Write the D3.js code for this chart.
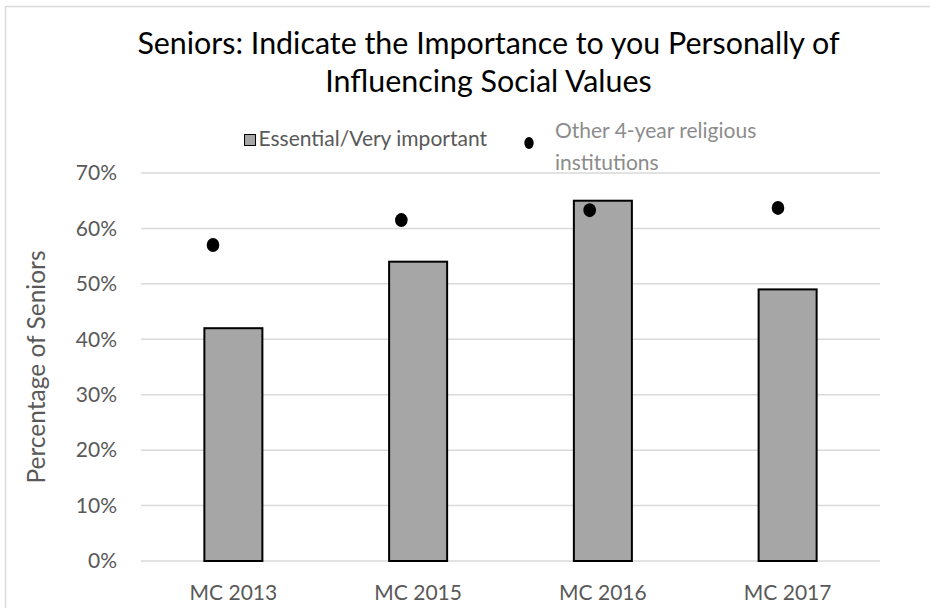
<!DOCTYPE html>
<html>
<head>
<meta charset="utf-8">
<script src="https://cdn.jsdelivr.net/npm/d3@7"></script>
<style>
  html, body { margin: 0; padding: 0; background: #fff; }
  svg { display: block; font-family: Lato, "Open Sans", sans-serif; }
</style>
</head>
<body>
<svg id="chart" width="930" height="608"></svg>
<script>
// Survey results: seniors rating "influencing social values" as essential/very important
const categories = ["MC 2013", "MC 2015", "MC 2016", "MC 2017"];
const essentialPct = [42, 54, 65, 49];          // bars
const comparisonPct = [57, 61.5, 63.3, 63.7];   // other 4-year religious institutions (dots)
const yTicks = [0, 10, 20, 30, 40, 50, 60, 70];
const titleLines = ["Seniors: Indicate the Importance to you Personally of", "Influencing Social Values"];
const seriesNames = ["Essential/Very important", "Other 4-year religious", "institutions"];
const yAxisTitle = "Percentage of Seniors";

const FONT = "Lato, 'Open Sans', sans-serif";
const LABEL = 21;

const svg = d3.select("#chart");
const W = 930, H = 608;
const plot = { left: 141, right: 880, top: 173, bottom: 561 };

// chart frame
svg.append("rect")
  .attr("x", 5.5).attr("y", 6.5)
  .attr("width", W).attr("height", H)
  .attr("fill", "none").attr("stroke", "#d9d9d9").attr("stroke-width", 1.5);

const x = d3.scaleBand().domain(categories).range([plot.left, plot.right]).paddingInner(0.686).paddingOuter(0.343);
const xDots = d3.scalePoint().domain(categories).range([213, 778]);
const y = d3.scaleLinear().domain([0, 70]).range([plot.bottom, plot.top]);

// gridlines
svg.append("g").selectAll("line").data(yTicks).join("line")
  .attr("x1", plot.left).attr("x2", plot.right)
  .attr("y1", d => y(d)).attr("y2", d => y(d))
  .attr("stroke", "#d9d9d9").attr("stroke-width", 1.5);

// y axis labels
const yAxis = d3.axisLeft(y).tickValues(yTicks).tickFormat(d => d + "%").tickSize(0).tickPadding(0);
const yg = svg.append("g").attr("transform", `translate(117,0)`).call(yAxis);
yg.select(".domain").remove();
yg.selectAll("text").attr("font-size", LABEL).attr("fill", "#595959").attr("font-family", FONT);

// x axis labels
const xAxis = d3.axisBottom(x).tickSize(0).tickPadding(0);
const xg = svg.append("g").attr("transform", `translate(0,${plot.bottom})`).call(xAxis);
xg.select(".domain").remove();
xg.selectAll("text").attr("font-size", LABEL).attr("fill", "#595959").attr("font-family", FONT)
  .attr("y", 39).attr("dy", 0);

// bars
svg.append("g").selectAll("rect").data(categories).join("rect")
  .attr("x", d => x(d))
  .attr("width", x.bandwidth())
  .attr("y", (d, i) => y(essentialPct[i]))
  .attr("height", (d, i) => y(0) - y(essentialPct[i]))
  .attr("fill", "#a6a6a6").attr("stroke", "#000").attr("stroke-width", 2);

// comparison dots
svg.append("g").selectAll("ellipse").data(categories).join("ellipse")
  .attr("cx", d => xDots(d))
  .attr("cy", (d, i) => y(comparisonPct[i]))
  .attr("rx", 6.3).attr("ry", 7)
  .attr("fill", "#000");

// title
svg.append("g").selectAll("text").data(titleLines).join("text")
  .attr("x", 488.5).attr("y", (d, i) => 54 + i * 38)
  .attr("text-anchor", "middle")
  .attr("font-size", 30.4).attr("fill", "#000")
  .text(d => d);

// y axis title
svg.append("text")
  .attr("transform", `translate(45,367) rotate(-90)`)
  .attr("text-anchor", "middle")
  .attr("font-size", 24.5).attr("fill", "#595959")
  .text(yAxisTitle);

// legend
const lg = svg.append("g");
const essLabel = lg.append("text").attr("x", 487).attr("y", 146).attr("text-anchor", "end")
  .attr("font-size", LABEL).attr("fill", "#595959").text(seriesNames[0]);
const essStart = 487 - essLabel.node().getComputedTextLength();
lg.append("rect").attr("x", essStart - 14).attr("y", 134.5).attr("width", 11).attr("height", 11)
  .attr("fill", "#a6a6a6").attr("stroke", "#000").attr("stroke-width", 1);
lg.append("ellipse").attr("cx", 529).attr("cy", 143).attr("rx", 4.7).attr("ry", 6).attr("fill", "#000");
lg.append("text").attr("x", 555).attr("y", 138).attr("font-size", LABEL).attr("fill", "#8c8c8c").text(seriesNames[1]);
lg.append("text").attr("x", 555).attr("y", 170).attr("font-size", LABEL).attr("fill", "#8c8c8c").text(seriesNames[2]);
</script>
</body>
</html>
